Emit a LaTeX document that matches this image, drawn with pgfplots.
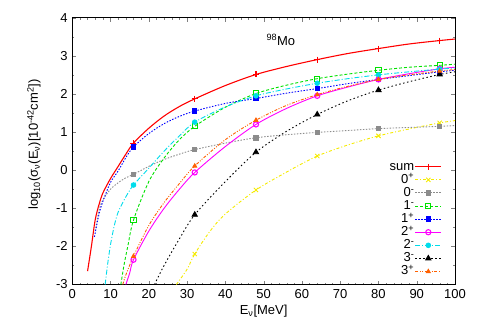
\documentclass[border=0pt]{standalone}
\usepackage{pgfplots}
\pgfplotsset{compat=1.18}
\usetikzlibrary{calc}
\usepackage{fontspec}
\setmainfont{Liberation Sans}
\definecolor{cred}{RGB}{255,0,0}
\definecolor{cyel}{RGB}{245,235,0}
\definecolor{cgray}{RGB}{140,140,140}
\definecolor{cgreen}{RGB}{0,225,0}
\definecolor{cblue}{RGB}{0,0,255}
\definecolor{cmag}{RGB}{255,0,255}
\definecolor{ccyan}{RGB}{0,220,235}
\definecolor{corange}{RGB}{255,96,0}
\pgfplotsset{
  ssum/.style={cred, line width=1.1pt, mark=+, mark size=3pt, mark options={solid}},
  szp/.style={cyel, line width=0.9pt, dash pattern=on 3pt off 2pt on 1pt off 2pt, mark=x, mark size=3pt, mark options={solid}},
  szm/.style={cgray, line width=0.9pt, dash pattern=on 1.5pt off 1.5pt, mark=square*, mark size=2.2pt, mark options={solid}},
  sonem/.style={cgreen, line width=0.9pt, dash pattern=on 3pt off 2pt, mark=square, mark size=2.6pt, mark options={solid}},
  sonep/.style={cblue, line width=0.9pt, dash pattern=on 1.5pt off 1.5pt, mark=square*, mark size=2.2pt, mark options={solid}},
  stwop/.style={cmag, line width=0.9pt, mark=o, mark size=2.6pt, mark options={solid, line width=1.1pt}},
  stwom/.style={ccyan, line width=0.9pt, dash pattern=on 5pt off 2pt on 1pt off 2pt, mark=*, mark size=2.3pt, mark options={solid}},
  sthreem/.style={black, line width=0.9pt, dash pattern=on 1.5pt off 2.5pt, mark=triangle*, mark size=3pt, mark options={solid}},
  sthreep/.style={corange, line width=0.9pt, dash pattern=on 3pt off 1.5pt on 1pt off 1.5pt on 1pt off 1.5pt, mark=triangle*, mark size=2.2pt, mark options={solid}},
}
\begin{document}
\fontsize{13}{15}\selectfont
\begin{tikzpicture}[x=1pt,y=1pt]
\begin{axis}[
  scale only axis,
  width=383pt, height=267pt,
  xmin=0, xmax=100, ymin=-3, ymax=4,
  xtick={0,10,...,100}, ytick={-3,-2,...,4},
  minor x tick num=4, minor y tick num=1,
  tick align=inside, tick pos=both,
  major tick length=4pt, minor tick length=2pt,
  /pgf/number format/assume math mode=true,
  tick label style={font=\fontsize{13}{15}\selectfont},
  label style={font=\fontsize{13}{15}\selectfont},
  xlabel={E\textsubscript{ν}[MeV]},
  ylabel={log\textsubscript{10}(σ\textsubscript{ν}(E\textsubscript{ν})[10\textsuperscript{-42}cm\textsuperscript{2}])},
  xlabel style={yshift=2pt},
  ylabel style={at={(axis description cs:-0.1,0.525)}, anchor=center},
  legend style={draw=none, fill=none, at={(rel axis cs:0.974,0.016)}, anchor=south east,
    font=\fontsize{13}{15}\selectfont,
    nodes={inner sep=0.5pt, text height=9.5pt, text depth=2.6pt}},
  legend cell align=right,
  legend plot pos=right,
  legend image code/.code={\draw[mark repeat=2,mark phase=2,#1] plot coordinates {(0pt,0pt) (13pt,0pt) (26pt,0pt)};},
]
% sum
\addplot[ssum, smooth, tension=0.5, mark indices={9,13,15,17,19,21}, forget plot] coordinates {
(4,-2.65)(5,-2.0)(6,-1.3)(7,-0.9)(8,-0.6)(10,-0.22)(12,0.1)(14,0.42)(16,0.71)(20,1.1)(24,1.42)(28,1.67)(32,1.87)(40,2.22)(48,2.51)(56,2.72)(64,2.9)(72,3.06)(80,3.19)(88,3.31)(96,3.4)(100,3.44)};
% 0+
\addplot[szp, smooth, tension=0.5, mark indices={3,6,8,10,12}, forget plot] coordinates {
(27.2,-3)(30,-2.6)(32,-2.2)(36,-1.6)(40,-1.15)(48,-0.52)(56,-0.05)(64,0.37)(72,0.66)(80,0.9)(88,1.08)(96,1.24)(100,1.3)};
% 0-
\addplot[szm, smooth, tension=0.5, mark indices={7,11,13,15,17,19}, forget plot] coordinates {
(6,-1.6)(7,-1.05)(8,-0.78)(10,-0.5)(12,-0.33)(14,-0.2)(16,-0.11)(20,0.1)(24,0.28)(28,0.42)(32,0.54)(40,0.71)(48,0.85)(56,0.93)(64,0.99)(72,1.04)(80,1.09)(88,1.12)(96,1.15)(100,1.17)};
% 1-
\addplot[sonem, smooth, tension=0.5, mark indices={4,8,10,12,14,16}, forget plot] coordinates {
(12.7,-3)(13.5,-2.5)(14.5,-2.0)(16,-1.31)(20,-0.3)(24,0.32)(28,0.8)(32,1.15)(40,1.65)(48,2.01)(56,2.23)(64,2.4)(72,2.52)(80,2.62)(88,2.7)(96,2.75)(100,2.78)};
% 1+
\addplot[sonep, smooth, tension=0.5, mark indices={7,11,13,15,17,19}, forget plot] coordinates {
(5.8,-1.75)(7,-1.15)(8,-0.82)(10,-0.32)(12,-0.02)(14,0.33)(16,0.61)(20,0.96)(24,1.22)(28,1.41)(32,1.55)(40,1.75)(48,1.88)(56,2.02)(64,2.14)(72,2.27)(80,2.38)(88,2.48)(96,2.58)(100,2.62)};
% 2+
\addplot[stwop, smooth, tension=0.5, mark indices={3,7,9,11,13,15}, forget plot] coordinates {
(14,-3)(15,-2.7)(16,-2.35)(20,-1.6)(24,-1.0)(28,-0.5)(32,-0.06)(40,0.62)(48,1.2)(56,1.62)(64,1.95)(72,2.18)(80,2.38)(88,2.53)(96,2.66)(100,2.7)};
% 2-
\addplot[stwom, smooth, tension=0.5, mark indices={7,11,13,15,17,19}, forget plot] coordinates {
(8.6,-3)(9.2,-2.5)(10,-1.95)(11,-1.45)(12,-1.1)(14,-0.7)(16,-0.39)(20,0.05)(24,0.5)(28,0.9)(32,1.26)(40,1.66)(48,1.95)(56,2.13)(64,2.28)(72,2.4)(80,2.5)(88,2.58)(96,2.65)(100,2.68)};
% 3-
\addplot[sthreem, smooth, tension=0.5, mark indices={4,6,8,10,12}, forget plot] coordinates {
(21.5,-3)(24,-2.5)(28,-1.8)(32,-1.17)(40,-0.3)(48,0.47)(56,1.02)(64,1.46)(72,1.82)(80,2.1)(88,2.32)(96,2.51)(100,2.58)};
% 3+
\addplot[sthreep, smooth, tension=0.5, mark indices={3,7,9,11,13,15}, forget plot] coordinates {
(13.2,-3)(14,-2.75)(16,-2.26)(20,-1.45)(24,-0.85)(28,-0.35)(32,0.11)(40,0.8)(48,1.31)(56,1.7)(64,1.98)(72,2.2)(80,2.38)(88,2.5)(96,2.6)(100,2.64)};
\addlegendimage{ssum}\addlegendentry{sum}
\addlegendimage{szp}\addlegendentry{0\textsuperscript{+}}
\addlegendimage{szm}\addlegendentry{0\textsuperscript{-}}
\addlegendimage{sonem}\addlegendentry{1\textsuperscript{-}}
\addlegendimage{sonep}\addlegendentry{1\textsuperscript{+}}
\addlegendimage{stwop}\addlegendentry{2\textsuperscript{+}}
\addlegendimage{stwom}\addlegendentry{2\textsuperscript{-}}
\addlegendimage{sthreem}\addlegendentry{3\textsuperscript{-}}
\addlegendimage{sthreep}\addlegendentry{3\textsuperscript{+}}
\node at (axis cs:54.5,3.42) {\textsuperscript{98}Mo};
\end{axis}
\useasboundingbox ($(current axis.south west)+(-72.3pt,-50.7pt)$) rectangle ($(current axis.north east)+(24pt,17.7pt)$);
\end{tikzpicture}
\end{document}
